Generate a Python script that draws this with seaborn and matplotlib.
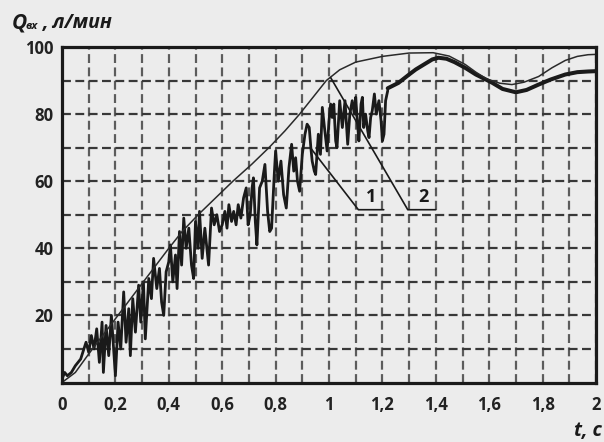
import matplotlib
matplotlib.use("Agg")
import matplotlib.pyplot as plt
import seaborn as sns
import pandas as pd
import numpy as np

# ---- data ----
exp_t = [0.0, 0.01, 0.02, 0.035, 0.05, 0.07, 0.09, 0.1, 0.11, 0.12, 0.13, 0.14, 0.15, 0.155,
         0.165, 0.175, 0.185, 0.2, 0.21, 0.22, 0.231, 0.24, 0.25, 0.256, 0.265, 0.275, 0.287,
         0.295, 0.305, 0.312, 0.325, 0.335, 0.343, 0.355, 0.365, 0.373, 0.381, 0.39, 0.4,
         0.406, 0.415, 0.425, 0.431, 0.44, 0.448, 0.456, 0.465, 0.475, 0.485, 0.493, 0.5,
         0.51, 0.515, 0.525, 0.535, 0.549, 0.56, 0.57, 0.58, 0.59, 0.6, 0.61, 0.618, 0.625,
         0.635, 0.643, 0.652, 0.66, 0.67, 0.68, 0.69, 0.697, 0.705, 0.712, 0.717, 0.724,
         0.73, 0.74, 0.75, 0.76, 0.77, 0.778, 0.785, 0.795, 0.8, 0.81, 0.82, 0.83, 0.84,
         0.85, 0.86, 0.868, 0.875, 0.882, 0.89, 0.9, 0.91, 0.918, 0.926, 0.932, 0.937,
         0.945, 0.95, 0.96, 0.968, 0.975, 0.983, 0.993, 1.0, 1.006, 1.012, 1.018, 1.025,
         1.03, 1.04, 1.05, 1.06, 1.07, 1.078, 1.087, 1.095, 1.1, 1.106, 1.112, 1.12, 1.125,
         1.13, 1.137, 1.145, 1.15, 1.156, 1.162, 1.17, 1.177, 1.187, 1.195, 1.2, 1.206,
         1.212, 1.22]
exp_q = [1, 3, 2, 3, 5, 7, 12, 9, 14, 10, 16, 6, 18, 3,
         17, 8, 20, 2, 18, 10, 27, 12, 22, 8, 25, 15, 29,
         18, 30, 13, 31, 25, 37, 28, 34, 24, 20, 33, 36,
         41, 30, 38, 28, 45, 35, 49, 40, 46, 35, 31, 48,
         40, 51, 37, 46, 35, 52, 47, 50, 45, 47, 51, 46, 53,
         48, 51, 47, 53, 49, 55, 58, 47, 50, 58, 61, 48,
         41, 58, 60, 65, 51, 45, 46, 62, 69, 60, 66, 56, 52,
         64, 71, 63, 67, 60, 57, 68, 74, 77, 76, 70, 66,
         63, 62, 74, 68, 82, 76, 69, 78, 83, 79, 83, 72,
         70, 84, 76, 84, 71, 80, 84, 80, 85, 78, 72, 83, 85,
         76, 80, 75, 73, 79, 81, 86, 80, 84, 78, 72, 74,
         84, 87]

tail_t = [1.22, 1.26, 1.3, 1.325, 1.36, 1.387, 1.41, 1.44, 1.47, 1.51, 1.55, 1.61,
          1.65, 1.7, 1.74, 1.785, 1.83, 1.885, 1.93, 1.97, 2.0]
tail_q = [87.7, 89.3, 91.8, 93.3, 95.0, 96.3, 96.8, 96.5, 95.5, 93.8, 91.8, 89.4,
          87.5, 86.5, 87.2, 88.8, 90.3, 91.8, 92.5, 92.7, 92.8]

model_t = [0.0, 0.05, 0.1, 0.2, 0.3, 0.4, 0.45, 0.51, 0.575, 0.64, 0.71, 0.775, 0.835,
           0.89, 0.94, 0.99, 1.04, 1.1, 1.2, 1.3, 1.39, 1.45, 1.51, 1.55, 1.59, 1.64,
           1.685, 1.73, 1.785, 1.835, 1.885, 1.93, 1.97, 2.0]
model_q = [0.0, 3.0, 8.5, 19.0, 29.5, 40.0, 45.0, 50.0, 55.0, 60.0, 65.0, 70.0, 75.0,
           80.0, 85.0, 90.0, 93.2, 95.5, 97.2, 98.2, 98.3, 97.3, 94.8, 92.5, 90.5, 89.2,
           88.8, 89.5, 91.2, 93.8, 96.0, 97.2, 97.7, 97.8]

lead1_t = [0.93, 1.11, 1.205]
lead1_q = [70.0, 51.5, 51.5]
lead2_t = [1.006, 1.295, 1.40]
lead2_q = [90.9, 51.5, 51.5]
labels = ["1", "2"]
label_t = [1.157, 1.352]
label_q = [52.5, 52.5]

xticks = [0, 0.2, 0.4, 0.6, 0.8, 1.0, 1.2, 1.4, 1.6, 1.8, 2.0]
xticklabels = ["0", "0,2", "0,4", "0,6", "0,8", "1", "1,2", "1,4", "1,6", "1,8", "2"]
yticks = [20, 40, 60, 80, 100]
yticklabels = ["20", "40", "60", "80", "100"]

# ---- style ----
sns.set_theme(style="white")
plt.rcParams['font.family'] = ['Open Sans', 'DejaVu Sans']
bg = "#ececec"
ink = "#1a1a1a"

fig = plt.figure(figsize=(6.04, 4.42), dpi=100, facecolor=bg)
ax = fig.add_axes([62 / 604, 1 - 382.5 / 442, (596 - 62) / 604, (382.5 - 47) / 442])
ax.set_facecolor(bg)

df_model = pd.DataFrame({"t": model_t, "q": model_q})
df_exp = pd.DataFrame({"t": exp_t, "q": exp_q})
df_tail = pd.DataFrame({"t": tail_t, "q": tail_q})
df_l1 = pd.DataFrame({"t": lead1_t, "q": lead1_q})
df_l2 = pd.DataFrame({"t": lead2_t, "q": lead2_q})

sns.lineplot(data=df_exp, x="t", y="q", ax=ax, color=ink, lw=2.0, sort=False, estimator=None)
sns.lineplot(data=df_tail, x="t", y="q", ax=ax, color=ink, lw=2.9, sort=False, estimator=None)
sns.lineplot(data=df_model, x="t", y="q", ax=ax, color="#2a2a2a", lw=1.1, sort=False, estimator=None)
sns.lineplot(data=df_l1, x="t", y="q", ax=ax, color=ink, lw=1.2, sort=False, estimator=None)
sns.lineplot(data=df_l2, x="t", y="q", ax=ax, color=ink, lw=1.2, sort=False, estimator=None)

for lab, tx, qy in zip(labels, label_t, label_q):
    ax.text(tx, qy, lab, ha="center", va="bottom", fontsize=13, fontweight="bold", color=ink)

ax.set_xlim(0, 2)
ax.set_ylim(0, 100)
ax.set_xticks(xticks)
ax.set_xticklabels(xticklabels)
ax.set_yticks(yticks)
ax.set_yticklabels(yticklabels)
ax.set_xticks([0.1, 0.3, 0.5, 0.7, 0.9, 1.1, 1.3, 1.5, 1.7, 1.9], minor=True)
ax.set_yticks([10, 30, 50, 70, 90], minor=True)
ax.set_xlabel("")
ax.set_ylabel("")
ax.tick_params(axis="both", which="both", length=0)
ax.tick_params(axis="x", pad=10)
ax.tick_params(axis="y", pad=6)
for lbl in ax.get_xticklabels() + ax.get_yticklabels():
    lbl.set_fontweight("bold")
    lbl.set_fontsize(12)
    lbl.set_color("#222222")

ax.xaxis.grid(True, which="both", color="#5c5c5c", lw=1.6, ls=(0, (4, 2)))
ax.yaxis.grid(True, which="both", color="#383838", lw=1.6, ls=(0, (4, 2)))
ax.set_axisbelow(True)
for s in ax.spines.values():
    s.set_visible(True)
    s.set_color("#1a1a1a")
    s.set_linewidth(2.3)

# axis titles
fig.text(12 / 604, 1 - 28 / 442, "Q", fontsize=15, fontweight="bold", fontstyle="italic",
         color=ink, va="baseline", ha="left")
fig.text(26 / 604, 1 - 29 / 442, "вх", fontsize=8, fontweight="bold", fontstyle="italic",
         color=ink, va="baseline", ha="left")
fig.text(43 / 604, 1 - 28 / 442, ", л/мин", fontsize=14, fontweight="bold", fontstyle="italic",
         color=ink, va="baseline", ha="left")
fig.text(602 / 604, 1 - 436 / 442, "t, c", fontsize=14, fontweight="bold", fontstyle="italic",
         color=ink, va="baseline", ha="right")

fig.savefig("out.png", dpi=100, facecolor=bg)
